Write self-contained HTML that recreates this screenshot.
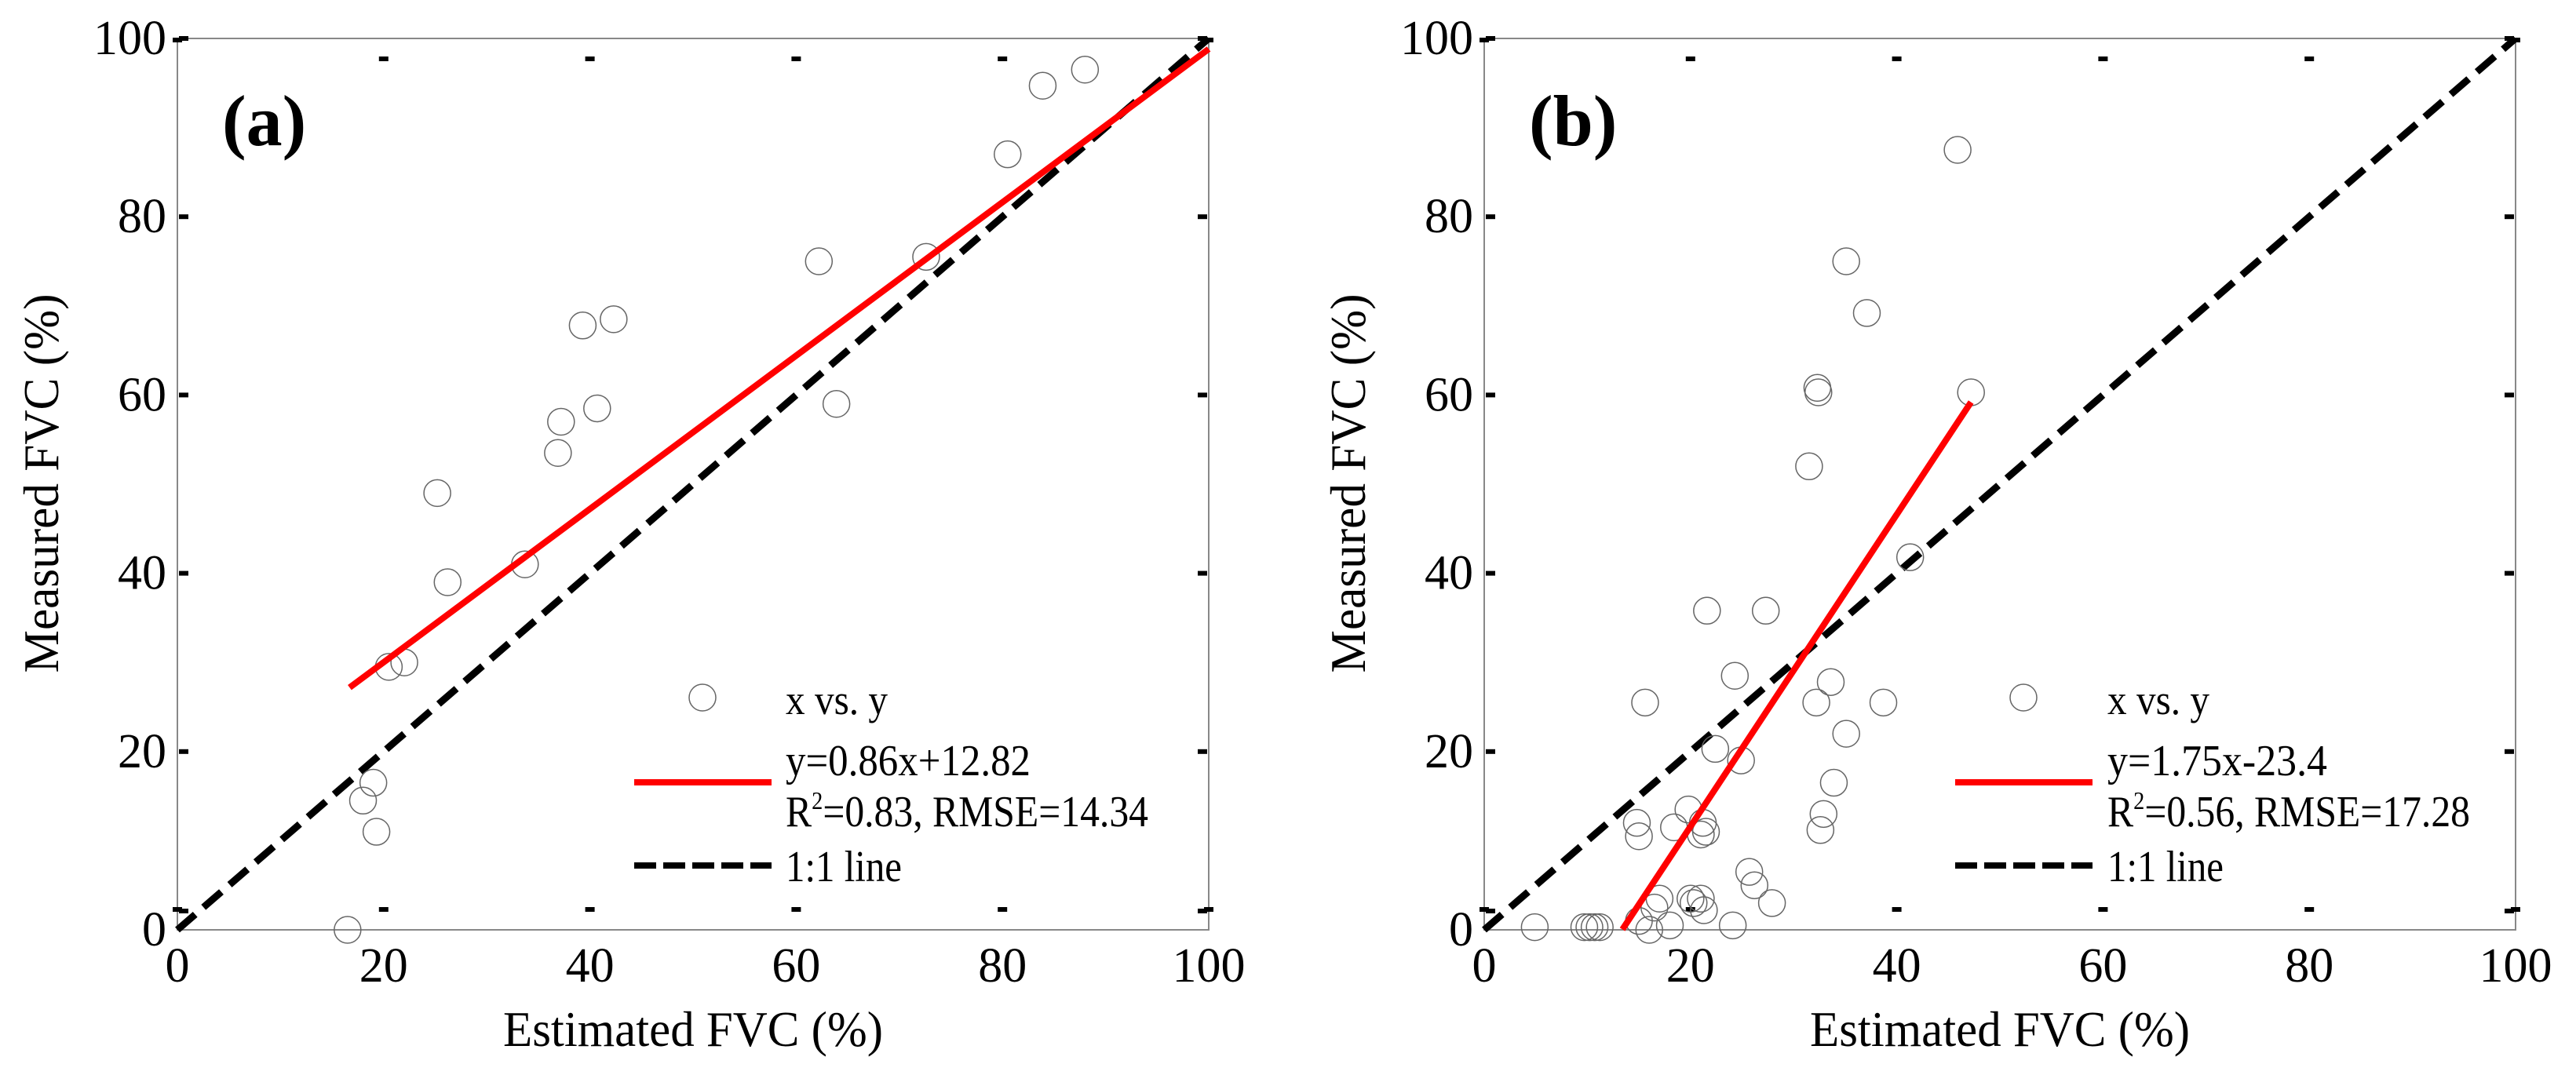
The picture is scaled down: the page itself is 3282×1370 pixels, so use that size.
<!DOCTYPE html>
<html><head><meta charset="utf-8">
<style>
html,body{margin:0;padding:0;background:#fff;}
svg{display:block;font-family:"Liberation Serif",serif;}
text{font-family:"Liberation Serif",serif;}
</style></head>
<body>
<svg id="chart" width="3282" height="1370" viewBox="0 0 3282 1370" xmlns="http://www.w3.org/2000/svg" font-family="Liberation Serif, serif"></svg>
<script>
// Panel (a) data
const aEstimated = [16.5,18,19,19.3,20.5,22,25.2,26.2,33.7,36.9,37.2,39.3,40.7,42.3,62.2,63.9,72.6,80.5,83.9,88];
const aMeasured  = [0,14.5,16.5,11,29.5,30,49,39,41,53.5,57,67.8,58.5,68.5,75,59,75.5,87,94.7,96.5];
const aFitSlope = 0.86, aFitIntercept = 12.82, aFitRange = [16.7, 100];
const aLegendLabels = ["x vs. y","y=0.86x+12.82","=0.83, RMSE=14.34","1:1 line"];
// Panel (b) data
const bEstimated = [4.9,9.7,10.2,10.7,11.2,14.8,15,15.6,15,16,16.5,17,18,18.4,19.8,20,20.3,21,21.2,21,21.5,21.3,21.6,22.4,24.3,24.1,24.9,25.7,26.2,27.3,27.9,31.5,32.3,32.4,32.2,32.6,32.9,33.6,33.9,35.1,35.1,37.1,38.7,41.3,45.9,47.2];
const bMeasured  = [0.3,0.3,0.3,0.3,0.3,12,10.5,25.5,1,0,2.5,3.5,0.5,11.5,13.5,3.5,3,3.5,12,10.7,11,2.2,35.8,20.3,28.5,0.5,19,6.5,5,35.8,3,52,60.8,60.3,25.5,11.2,13,27.8,16.5,22,75,69.2,25.5,41.8,87.5,60.3];
const bFitSlope = 1.75, bFitIntercept = -23.4, bFitRange = [13.4, 47.2];
const bLegendLabels = ["x vs. y","y=1.75x-23.4","=0.56, RMSE=17.28","1:1 line"];
const tickValues = [0,20,40,60,80,100];
const tickLabels = ["0","20","40","60","80","100"];

const NS = "http://www.w3.org/2000/svg";
const svg = document.getElementById("chart");
function mk(tag, attrs, parent, text){
  const e = document.createElementNS(NS, tag);
  for (const k in attrs) e.setAttribute(k, attrs[k]);
  if (tag === "text") e.setAttribute("font-family", "Liberation Serif, serif");
  if (text !== undefined) e.textContent = text;
  (parent || svg).appendChild(e);
  return e;
}

function panel(cfg){
  const L = cfg.left, T = 49, W = 1314, H = 1136, B = T + H;
  const sx = v => L + v / 100 * W;
  const sy = v => B - v / 100 * H;
  const g = mk("g", {});
  
  

  const frame = mk("rect", {x:L, y:T, width:W, height:H, fill:"none", stroke:"#888", "stroke-width":2}, g);
  
  

  tickValues.forEach((v, i) => {
    const x = sx(v), y = sy(v);
    const marks = (v === 0 || v === 100) ? [[x-6, T+2],[x-6, B-26]] : [[x-6, T+26],[x-6, B-26]];
    marks.forEach(p => {
      const t = mk("rect", {x:p[0], y:p[1]-3, width:12, height:6, fill:"#000"}, g);
      
      
    });
    [[L+2, y-3],[L+W-14, y-3]].forEach(p => {
      const t = mk("rect", {x:p[0], y:p[1]+(v===0?-24:0), width:12, height:6, fill:"#000"}, g);
      
      
    });
    const xl = mk("text", {x:x, y:B+66, "font-size":62, "text-anchor":"middle"}, g, tickLabels[i]);
    
    
    const yl = mk("text", {x:L-14, y:y+20, "font-size":62, "text-anchor":"end"}, g, tickLabels[i]);
    
    
  });

  const xt = mk("text", {x:L+W/2, y:1333, "font-size":64, "text-anchor":"middle", textLength:484, lengthAdjust:"spacingAndGlyphs"}, g, "Estimated FVC (%)");
  
  
  const yt = mk("text", {x:0, y:0, "font-size":64, "text-anchor":"middle", textLength:483, lengthAdjust:"spacingAndGlyphs", transform:`translate(${L-152},616) rotate(-90)`}, g, "Measured FVC (%)");
  
  

  const pl = mk("text", {x:L+57, y:185, "font-size":92, "font-weight":"bold"}, g, cfg.label);
  
  

  const one = mk("line", {x1:sx(0), y1:sy(0), x2:sx(100), y2:sy(100), stroke:"#000", "stroke-width":9, "stroke-dasharray":"30 14"}, g);
  
  

  cfg.xs.forEach((xv, i) => {
    const c = mk("circle", {cx:sx(xv), cy:sy(cfg.ys[i]), r:17, fill:"none", stroke:"#666", "stroke-width":1.5}, g);
    
    
  });

  const r = cfg.range;
  const fit = mk("line", {x1:sx(r[0]), y1:sy(cfg.slope*r[0]+cfg.intercept), x2:sx(r[1]), y2:sy(cfg.slope*r[1]+cfg.intercept), stroke:"#f00", "stroke-width":8}, g);
  
  

  const lg = mk("g", {}, g);
  
  
  const tx = L + cfg.legText;
  const m = mk("circle", {cx:L+cfg.legMarker, cy:889, r:17, fill:"none", stroke:"#666", "stroke-width":1.5}, lg);
  
  
  const t1 = mk("text", {x:tx, y:910, "font-size":54, textLength:130, lengthAdjust:"spacingAndGlyphs"}, lg, cfg.legend[0]);
  
  
  const rl = mk("line", {x1:L+cfg.legLine[0], y1:997, x2:L+cfg.legLine[1], y2:997, stroke:"#f00", "stroke-width":8}, lg);
  
  
  const t2 = mk("text", {x:tx, y:988, "font-size":56, textLength:cfg.eqLen, lengthAdjust:"spacingAndGlyphs"}, lg, cfg.legend[1]);
  
  
  const t3 = mk("text", {x:tx, y:1053, "font-size":56, textLength:462, lengthAdjust:"spacingAndGlyphs"}, lg);
  
  
  mk("tspan", {}, t3, "R");
  mk("tspan", {dy:-22, "font-size":32}, t3, "2");
  mk("tspan", {dy:22}, t3, cfg.legend[2]);
  const dl = mk("line", {x1:L+cfg.legLine[0], y1:1103, x2:L+cfg.legLine[1], y2:1103, stroke:"#000", "stroke-width":8, "stroke-dasharray":"28 9"}, lg);
  
  
  const t4 = mk("text", {x:tx, y:1123, "font-size":56, textLength:148, lengthAdjust:"spacingAndGlyphs"}, lg, cfg.legend[3]);
  
  
}

panel({name:"panel-a", left:226, label:"(a)", xs:aEstimated, ys:aMeasured, slope:aFitSlope, intercept:aFitIntercept, range:aFitRange, legend:aLegendLabels, legText:775, legMarker:669, legLine:[582,757], eqLen:312});
panel({name:"panel-b", left:1891, label:"(b)", xs:bEstimated, ys:bMeasured, slope:bFitSlope, intercept:bFitIntercept, range:bFitRange, legend:bLegendLabels, legText:794, legMarker:687, legLine:[600,775], eqLen:280});
</script>
</body></html>
